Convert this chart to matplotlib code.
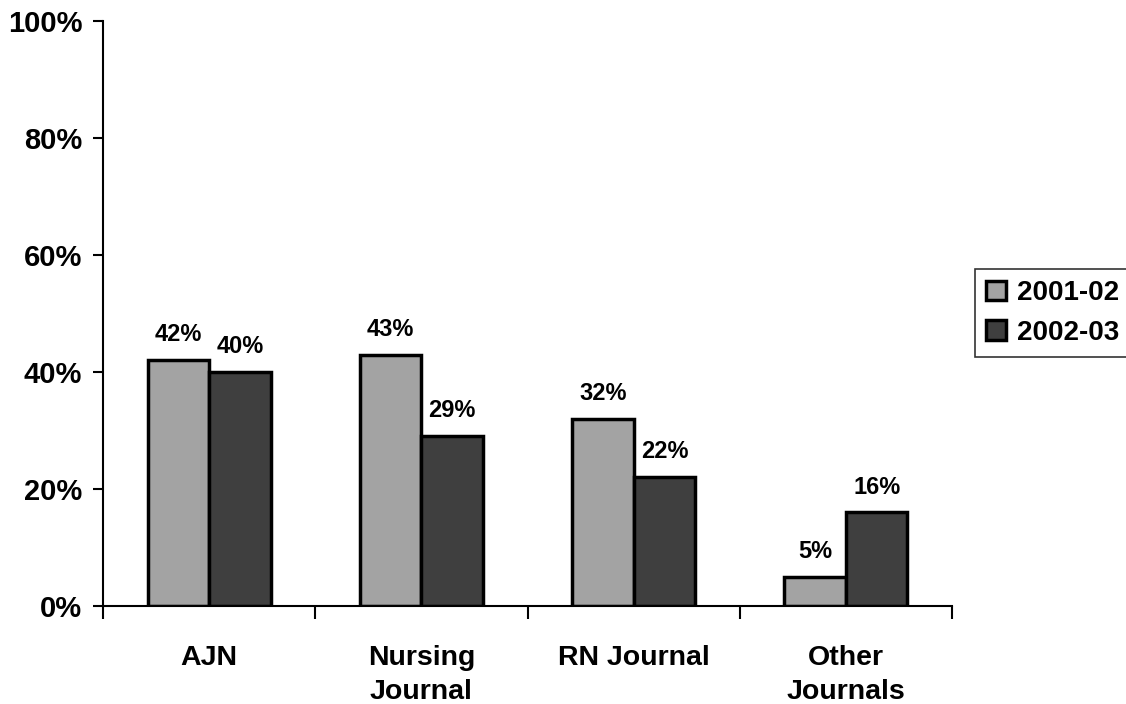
import matplotlib.pyplot as plt
import numpy as np

plt.rcParams['font.family'] = ['Liberation Sans', 'DejaVu Sans']
plt.rcParams['font.weight'] = 'bold'

# Data
categories = ['AJN', 'Nursing\nJournal', 'RN Journal', 'Other\nJournals']
series_names = ['2001-02', '2002-03']
values_0102 = [42, 43, 32, 5]
values_0203 = [40, 29, 22, 16]
y_ticks = [0, 20, 40, 60, 80, 100]

fig = plt.figure(figsize=(11.26, 7.04), dpi=100)
ax = fig.add_axes([0.0915, 0.1392, 0.754, 0.8308])

x = np.arange(len(categories))
w = 0.29
b1 = ax.bar(x - w / 2, values_0102, w, color='#a3a3a3', edgecolor='black',
            linewidth=2.5, label=series_names[0])
b2 = ax.bar(x + w / 2, values_0203, w, color='#3f3f3f', edgecolor='black',
            linewidth=2.5, label=series_names[1])

# Value labels above each bar
for bars in (b1, b2):
    for rect in bars:
        h = rect.get_height()
        ax.annotate(f'{h:.0f}%', (rect.get_x() + rect.get_width() / 2, h),
                    xytext=(0, 10), textcoords='offset points',
                    ha='center', va='bottom', fontsize=17, fontweight='bold')

ax.set_xlim(-0.5, len(categories) - 0.5)
ax.set_ylim(0, 100)
ax.set_yticks(y_ticks)
ax.set_yticklabels([f'{t}%' for t in y_ticks], fontsize=21, fontweight='bold')

# Category labels centered, tick marks at boundaries
ax.set_xticks(x)
ax.set_xticklabels(categories, fontsize=20.5, fontweight='bold', linespacing=1.4)
ax.tick_params(axis='x', which='major', length=0, pad=28)
ax.set_xticks(np.arange(-0.5, len(categories)), minor=True)
ax.tick_params(axis='x', which='minor', length=9, width=1.5, direction='out')
ax.tick_params(axis='y', length=7, width=1.5, direction='out', pad=8)
for lbl in ax.get_xticklabels():
    lbl.set_verticalalignment('top')

for s in ('top', 'right'):
    ax.spines[s].set_visible(False)
for s in ('left', 'bottom'):
    ax.spines[s].set_linewidth(1.5)

leg = ax.legend(loc='upper left', bbox_to_anchor=(0.866, 0.618),
                bbox_transform=fig.transFigure, borderaxespad=0,
                fontsize=20, frameon=True, fancybox=False, edgecolor='black',
                handlelength=0.7, handleheight=0.7, handletextpad=0.4,
                labelspacing=0.5, borderpad=0.4)
leg.get_frame().set_linewidth(1.2)
for t in leg.get_texts():
    t.set_fontweight('bold')

fig.savefig('out.png', dpi=100)
